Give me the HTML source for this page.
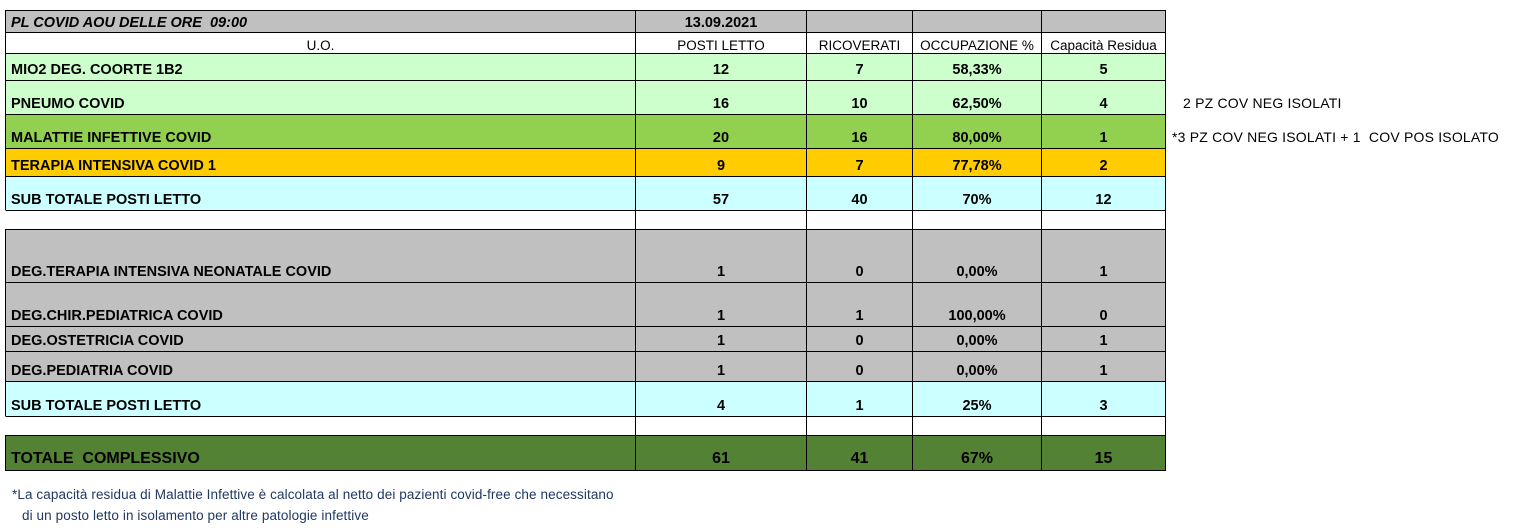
<!DOCTYPE html>
<html><head><meta charset="utf-8"><style>
body{margin:0;width:1525px;height:532px;background:#fff;position:relative;overflow:hidden;font-family:"Liberation Sans",Arial,sans-serif;}
.c{position:absolute;box-sizing:border-box;border:1px solid #000;margin:-1px 0 0 -1px;display:flex;align-items:flex-end;justify-content:center;font-weight:bold;font-size:14.5px;letter-spacing:0px;color:#000;padding-bottom:2px;white-space:nowrap;}
.l{justify-content:flex-start;padding-left:5px;}
.n{font-weight:normal;font-size:13.5px;letter-spacing:0px;}
.note{position:absolute;font-family:"Liberation Sans",sans-serif;font-size:14px;color:#000;letter-spacing:0.2px}
.foot{position:absolute;font-size:13.5px;color:#1f3864;left:12px;letter-spacing:0.1px}
</style></head><body>
<div id="t"></div>
<div class="note" style="left:1183px;top:95px">2 PZ COV NEG ISOLATI</div>
<div class="note" style="left:1172px;top:129px">*3 PZ COV NEG ISOLATI + 1&nbsp; COV POS ISOLATO</div>
<div class="foot" style="top:487px">*La capacità residua di Malattie Infettive è calcolata al netto dei pazienti covid-free che necessitano</div>
<div class="foot" style="top:508px;left:22px">di un posto letto in isolamento per altre patologie infettive</div>
<script>
var xs=[6,636,807,913,1042,1166];
var rows=[
[11,33,'#c0c0c0',['<i>PL COVID AOU DELLE ORE&nbsp; 09:00</i>','13.09.2021','','',''],'title'],
[33,54,'#fff',['U.O.','POSTI LETTO','RICOVERATI','OCCUPAZIONE %','Capacità Residua'],'hdr'],
[54,81,'#ccffcc',['MIO2 DEG. COORTE 1B2','12','7','58,33%','5']],
[81,115,'#ccffcc',['PNEUMO COVID','16','10','62,50%','4']],
[115,149,'#92d050',['MALATTIE INFETTIVE COVID','20','16','80,00%','1']],
[149,177,'#ffcc00',['TERAPIA INTENSIVA COVID 1','9','7','77,78%','2']],
[177,211,'#ccffff',['SUB TOTALE POSTI LETTO','57','40','70%','12']],
[211,230,'#fff',['','','','',''],'blank'],
[230,283,'#c0c0c0',['DEG.TERAPIA INTENSIVA NEONATALE COVID','1','0','0,00%','1']],
[283,327,'#c0c0c0',['DEG.CHIR.PEDIATRICA COVID','1','1','100,00%','0']],
[327,352,'#c0c0c0',['DEG.OSTETRICIA COVID','1','0','0,00%','1']],
[352,382,'#c0c0c0',['DEG.PEDIATRIA COVID','1','0','0,00%','1']],
[382,417,'#ccffff',['SUB TOTALE POSTI LETTO','4','1','25%','3']],
[417,436,'#fff',['','','','',''],'blank'],
[436,471,'#548235',['TOTALE&nbsp; COMPLESSIVO','61','41','67%','15'],'tot']
];
var h='';
rows.forEach(function(r){
 for(var i=0;i<5;i++){
  var x=xs[i],w=xs[i+1]-x+1,cls='c';
  if(i==0 && r[4]!='hdr') cls+=' l';
  if(r[4]=='hdr') cls+=' n';
  var st='left:'+x+'px;top:'+r[0]+'px;width:'+w+'px;height:'+(r[1]-r[0]+1)+'px;background:'+r[2]+';';
  if(r[4]=='blank'&&i==0) st+='border-left-color:#fff;';
  if(r[4]=='tot') st+='font-size:16px;';
  if(r[4]=='title') st+='padding-bottom:1px;';
  if(r[4]=='hdr') st+='padding-bottom:0px;';
  h+='<div class="'+cls+'" style="'+st+'">'+r[3][i]+'</div>';
 }
});
document.getElementById('t').innerHTML=h;
</script>
</body></html>
